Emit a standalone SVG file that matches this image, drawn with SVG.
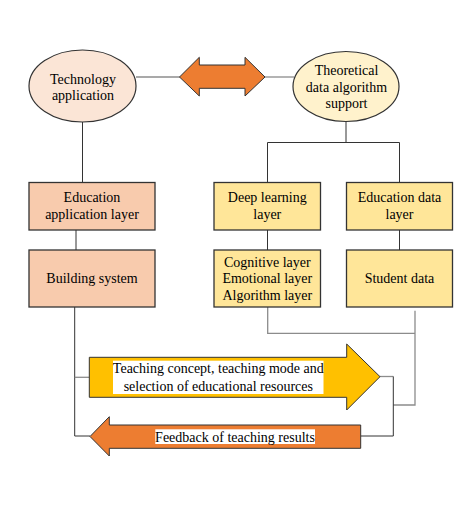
<svg xmlns="http://www.w3.org/2000/svg" width="457" height="515" viewBox="0 0 457 515">
<style>
text{font-family:"Liberation Serif","Times New Roman",serif;font-size:14px;fill:#000;text-anchor:middle}
.box{stroke:#333;stroke-width:1.3}
.peach{fill:#F8CBAD}
.yel{fill:#FFE699}
.ln{fill:none;stroke:#333;stroke-width:1}
.gl{fill:none;stroke:#8c8c8c;stroke-width:1.3}
.arr{stroke:#333;stroke-width:1}
</style>
<rect width="457" height="515" fill="#fff"/>
<g id="connectors">
<path class="gl" d="M136,77 H180"/>
<path class="gl" d="M265,77 H294"/>
<path class="ln" d="M82.5,122 V182.5"/>
<path class="ln" d="M76,230 V250"/>
<path class="ln" d="M346,121 V142.5 M267.5,182.5 V142.5 H399.5 V182.5"/>
<path class="ln" d="M267.5,230 V250"/>
<path class="ln" d="M399.5,230 V250"/>
<path class="ln" d="M74.7,307 V436 H90"/>
<path class="gl" d="M74.7,377.3 H89.3"/>
<path class="gl" d="M267.7,307 V333.3 H415"/>
<path class="gl" d="M415,310.7 V405 H393.3"/>
<path class="gl" d="M379.5,376.5 H393.3"/>
<path class="ln" d="M393.3,376.5 V436 H360.7"/>
</g>
<g id="double-arrow">
<polygon class="arr" fill="#ED7D31" points="179.5,77 199.3,57.3 199.3,65 245,65 245,57.3 265,77 245,96 245,88.3 199.3,88.3 199.3,96"/>
</g>
<g id="technology-application">
<ellipse cx="82.5" cy="86" rx="53.5" ry="36" fill="#FBE5D6" stroke="#333" stroke-width="1.2"/>
<text x="83" y="84">Technology</text>
<text x="83" y="100">application</text>
</g>
<g id="theoretical-support">
<ellipse cx="346" cy="86.5" rx="53" ry="35" fill="#FFF2CC" stroke="#333" stroke-width="1.2"/>
<text x="346.5" y="74.5">Theoretical</text>
<text x="346.5" y="91.5">data algorithm</text>
<text x="346.5" y="108">support</text>
</g>
<g id="education-application-layer">
<rect class="box peach" x="29" y="182.5" width="126" height="47.5"/>
<text x="92" y="201.5">Education</text>
<text x="92" y="219">application layer</text>
</g>
<g id="building-system">
<rect class="box peach" x="29" y="250" width="126" height="57"/>
<text x="92" y="283">Building system</text>
</g>
<g id="deep-learning-layer">
<rect class="box yel" x="214" y="182.5" width="106.5" height="47.5"/>
<text x="267.3" y="201.5">Deep learning</text>
<text x="267.3" y="219">layer</text>
</g>
<g id="cognitive-layers">
<rect class="box yel" x="214" y="250" width="106.5" height="57"/>
<text x="267.3" y="266.5">Cognitive layer</text>
<text x="267.3" y="283">Emotional layer</text>
<text x="267.3" y="300">Algorithm layer</text>
</g>
<g id="education-data-layer">
<rect class="box yel" x="346.5" y="182.5" width="106" height="47.5"/>
<text x="399.5" y="201.5">Education data</text>
<text x="399.5" y="219">layer</text>
</g>
<g id="student-data">
<rect class="box yel" x="346.5" y="250" width="106" height="57"/>
<text x="399.5" y="283">Student data</text>
</g>
<g id="teaching-arrow">
<polygon class="arr" fill="#FFC000" points="89.3,357.3 346.7,357.3 346.7,344 380,376.7 346.7,410 346.7,397.3 89.3,397.3"/>
<rect x="113" y="360.7" width="210.5" height="33.3" fill="#fff"/>
<text x="218.3" y="373">Teaching concept, teaching mode and</text>
<text x="218.3" y="390.5">selection of educational resources</text>
</g>
<g id="feedback-arrow">
<polygon class="arr" fill="#ED7D31" points="360.7,425 109.3,425 109.3,416.7 90,436.5 109.3,456 109.3,448.3 360.7,448.3"/>
<rect x="155.3" y="429.3" width="159.7" height="14.7" fill="#fff"/>
<text x="235" y="441.5">Feedback of teaching results</text>
</g>
</svg>
